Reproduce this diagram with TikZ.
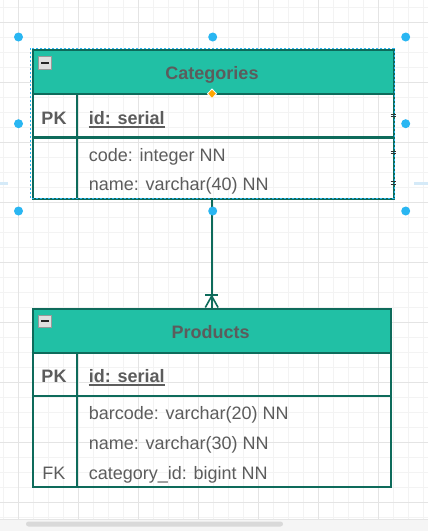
\documentclass[tikz,border=0pt]{standalone}
\usepackage{fontspec}
\setmainfont{Liberation Sans}
\definecolor{hdrfill}{HTML}{21C0A5}
\definecolor{tealline}{HTML}{0E6B5B}
\definecolor{txtgray}{HTML}{5C5C5C}
\definecolor{handleblue}{HTML}{29B6F2}
\definecolor{gridmajor}{HTML}{E4E4E4}
\definecolor{gridminor}{HTML}{F3F3F3}
\definecolor{hoverblue}{HTML}{D5EAF8}
\definecolor{diamondorange}{HTML}{FFA500}
\begin{document}
\begin{tikzpicture}[x=1pt,y=-1pt,
  tbl/.style={draw=tealline, line width=2pt, inner sep=0pt, anchor=north west},
  hdr/.style={fill=hdrfill},
  txt/.style={text=txtgray, inner sep=0pt, text height=13pt, text depth=0pt,
              font=\fontsize{18}{21}\selectfont},
  title/.style={txt, font=\fontsize{18}{21}\selectfont\bfseries},
  fieldtxt/.style={txt, anchor=west},
  keytxt/.style={txt, anchor=center},
  uline/.style={txtgray, line width=1.8pt},
  handle/.style={fill=handleblue},
  minusbox/.style={draw=gray!80, fill=gray!25, line width=0.8pt}]
\useasboundingbox (0,0) rectangle (428,531);
\fill[white] (0,0) rectangle (428,531);
% grid
\foreach \x in {3.3,18.3,...,428} \draw[gridminor, line width=0.8pt] (\x,0) -- (\x,519);
\foreach \y in {7,22,...,519} \draw[gridminor, line width=0.8pt] (0,\y) -- (428,\y);
\foreach \x in {18.3,78.3,...,428} \draw[gridmajor, line width=1pt] (\x,0) -- (\x,519);
\foreach \y in {22,82,...,519} \draw[gridmajor, line width=1pt] (0,\y) -- (428,\y);
% bottom strip with scrollbar
\fill[black!4] (0,519) rectangle (428,531);
\draw[black!10] (0,519) -- (428,519);
\fill[black!15, rounded corners=2.5pt] (26,521.5) rectangle (283,526.5);
% hover arrows
\draw[hoverblue, line width=3pt] (0,183) -- (8,183);
\draw[hoverblue, line width=3pt] (414,183) -- (428,183);

% ---------- Categories ----------
\fill[hdr] (31.5,49) rectangle (393,94);
\node[tbl, minimum width=361.5pt, minimum height=148.5pt] (cat) at (31.5,49) {};
\draw[tealline, line width=2pt] (31.5,94) -- (393,94);
\draw[tealline, line width=2.5pt] (31.5,137.7) -- (393,137.7);
\draw[tealline, line width=2pt] (76.7,94) -- (76.7,197.5);
\draw[minusbox] (38.7,56.7) rectangle (51.7,69.3);
\fill[black!85] (41.2,62) rectangle (49.2,64);
\node[title] (cattitle) at (212,73.3) {Categories};
\node[keytxt, font=\fontsize{18}{21}\selectfont\bfseries] (catpk) at (54,118) {PK};
\node[fieldtxt, font=\fontsize{18}{21}\selectfont\bfseries] (catid) at (88.7,118) {id: serial};
\draw[uline] ([yshift=-2.2pt]catid.south west) -- ([yshift=-2.2pt]catid.south east);
\node[fieldtxt] (catcode) at (88.7,155) {code: integer NN};
\node[fieldtxt] (catname) at (88.7,184) {name: varchar(40) NN};
% selection outline
\draw[handleblue, line width=0.8pt, dash pattern=on 2pt off 2pt] (30.8,48.3) rectangle (394.2,198.7);
% connection markers on right edge
\foreach \yy in {115,152.3,182.7} {
  \draw[black!80, line width=0.6pt] (390.5,\yy-1.2) -- (396,\yy-1.2);
  \draw[black!80, line width=0.6pt] (390.5,\yy+1.2) -- (396,\yy+1.2);
}
\fill[diamondorange, draw=white, line width=0.8pt] (212,89) -- (216.5,93.7) -- (212,98.4) -- (207.5,93.7) -- cycle;

% ---------- Products ----------
\fill[hdr] (31.5,307.5) rectangle (390,352.7);
\node[tbl, minimum width=358.5pt, minimum height=178.3pt] (prod) at (31.5,307.5) {};
\draw[tealline, line width=2pt] (31.5,352.7) -- (390,352.7);
\draw[tealline, line width=2.5pt] (31.5,396) -- (390,396);
\draw[tealline, line width=2pt] (76.7,352.7) -- (76.7,485.5);
\draw[minusbox] (38.7,315) rectangle (51.7,327.3);
\fill[black!85] (41.2,320.2) rectangle (49.2,322.2);
\node[title] (prodtitle) at (210.7,331.7) {Products};
\node[keytxt, font=\fontsize{18}{21}\selectfont\bfseries] (prodpk) at (54,376) {PK};
\node[fieldtxt, font=\fontsize{18}{21}\selectfont\bfseries] (prodid) at (88.7,376) {id: serial};
\draw[uline] ([yshift=-2.2pt]prodid.south west) -- ([yshift=-2.2pt]prodid.south east);
\node[fieldtxt] (prodbar) at (88.7,413.3) {barcode: varchar(20) NN};
\node[fieldtxt] (prodname) at (88.7,442.7) {name: varchar(30) NN};
\node[keytxt] (prodfk) at (54,472.7) {FK};
\node[fieldtxt] (prodcat) at (88.7,472.7) {category\_id: bigint NN};

% ---------- Connector ----------
\coordinate (ctop) at (211.7,198);
\coordinate (cbot) at (211.7,307.5);
\draw[tealline, line width=1.6pt] (ctop) -- (cbot);
\draw[tealline, line width=1.6pt] (205,294.7) -- (218.3,294.7);
\draw[tealline, line width=1.6pt] (205.3,307.5) -- (211.7,296) -- (218.1,307.5);

% handles
\foreach \hx/\hy in {18.5/37, 212.7/37, 405.7/37, 18.5/123.7, 405.7/123.7, 18.5/211, 212.7/211, 405.7/211}
  \fill[handle] (\hx,\hy) circle (4.5pt);
\end{tikzpicture}
\end{document}
